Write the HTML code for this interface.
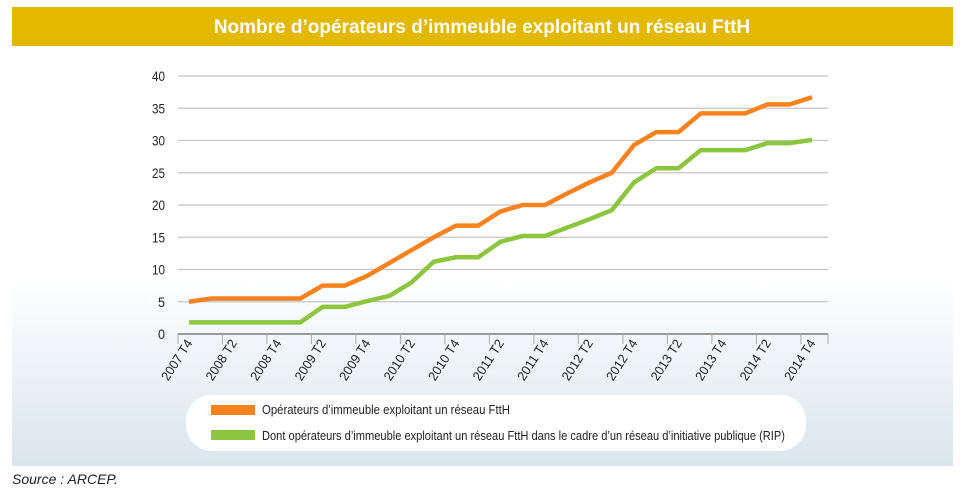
<!DOCTYPE html>
<html><head><meta charset="utf-8"><style>
body{margin:0;background:#fff;font-family:"Liberation Sans",sans-serif}
svg{display:block}
</style></head><body>
<svg width="965" height="503" xmlns="http://www.w3.org/2000/svg">
<defs>
<linearGradient id="bg" x1="0" y1="0" x2="0" y2="1">
<stop offset="0" stop-color="#ffffff"/><stop offset="0.55" stop-color="#ffffff"/><stop offset="1" stop-color="#d9e5ee"/>
</linearGradient>
</defs>
<rect x="12" y="46" width="941" height="420" fill="url(#bg)"/>
<rect x="12" y="7" width="941" height="39" fill="#e3b800"/>
<text x="482" y="33" text-anchor="middle" fill="#fff" font-weight="bold" font-size="19">Nombre d’opérateurs d’immeuble exploitant un réseau FttH</text>
<g id="grid"></g>
<g id="axis"></g>
<g id="series"></g>
<rect x="186" y="395" width="620" height="56" rx="26" fill="#fff"/>
<rect x="211" y="405" width="44" height="10" fill="#f7821e"/>
<text x="262" y="414" font-size="13" fill="#222" textLength="248" lengthAdjust="spacingAndGlyphs">Opérateurs d’immeuble exploitant un réseau FttH</text>
<rect x="211" y="430" width="44" height="10" fill="#8cc63f"/>
<text x="262" y="440" font-size="13" fill="#222" textLength="523" lengthAdjust="spacingAndGlyphs">Dont opérateurs d’immeuble exploitant un réseau FttH dans le cadre d’un réseau d’initiative publique (RIP)</text>
<text x="12" y="484" font-size="14" font-style="italic" fill="#222">Source : ARCEP.</text>
</svg>
<script>
const categories=["2007 T4","2008 T1","2008 T2","2008 T3","2008 T4","2009 T1","2009 T2","2009 T3","2009 T4","2010 T1","2010 T2","2010 T3","2010 T4","2011 T1","2011 T2","2011 T3","2011 T4","2012 T1","2012 T2","2012 T3","2012 T4","2013 T1","2013 T2","2013 T3","2013 T4","2014 T1","2014 T2","2014 T3","2014 T4"];
const totalValues=[5,5.5,5.5,5.5,5.5,5.5,7.5,7.5,9,11,13,15,16.8,16.8,19,20,20,21.8,23.5,25,29.3,31.3,31.3,34.2,34.2,34.2,35.6,35.6,36.7];
const ripValues=[1.8,1.8,1.8,1.8,1.8,1.8,4.2,4.2,5.1,5.9,8,11.2,11.9,11.9,14.3,15.2,15.2,16.5,17.8,19.2,23.5,25.7,25.7,28.5,28.5,28.5,29.6,29.6,30.1];
const yTicks=[0,5,10,15,20,25,30,35,40];
const NS="http://www.w3.org/2000/svg";
const x0=189,x1=812,y0=334,y1=76;
function xs(i){return x0+(x1-x0)*i/(categories.length-1);}
function ys(v){return y0-(y0-y1)*v/40;}
function mk(t,a,p){const e=document.createElementNS(NS,t);for(const k in a)e.setAttribute(k,a[k]);p.appendChild(e);return e;}
const grid=document.getElementById('grid'),axis=document.getElementById('axis'),ser=document.getElementById('series');
yTicks.forEach(v=>{
  if(v>0){const l=mk('line',{x1:178,x2:828,y1:ys(v),y2:ys(v),stroke:'#c4c4c4','stroke-width':1.2},grid);
  
  }
  const t=mk('text',{x:165,y:ys(v)+5,'text-anchor':'end','font-size':14,fill:'#222',textLength:(v>=10?13:7),lengthAdjust:'spacingAndGlyphs'},axis);
  t.textContent=v;
  
  
});
const ax=mk('line',{x1:178,x2:828,y1:y0,y2:y0,stroke:'#999','stroke-width':2},axis);


for(let i=0;i<=categories.length-1;i+=2){
  const tx=(i===0)?178:xs(i)-11.1;
  const tk=mk('line',{x1:tx,x2:tx,y1:y0,y2:y0+10,stroke:'#aaa','stroke-width':1},axis);
  
  
}
mk('line',{x1:828,x2:828,y1:y0,y2:y0+10,stroke:'#aaa'},axis);
categories.forEach((c,i)=>{
  if(i%2) return;
  const X=xs(i)+4,Y=y0+9;
  const t=mk('text',{x:X,y:Y,'text-anchor':'end','font-size':13,fill:'#222',textLength:46,lengthAdjust:'spacingAndGlyphs',transform:`rotate(-57 ${X} ${Y})`},axis);
  t.textContent=c;
  
  
});
function line(vals,color,name){
  const p=mk('polyline',{points:vals.map((v,i)=>xs(i)+','+ys(v)).join(' '),fill:'none',stroke:color,'stroke-width':4.5,'stroke-linejoin':'round'},ser);
  
  
}
line(ripValues,'#8cc63f','series-rip-line');
line(totalValues,'#f7821e','series-total-line');
</script>
</body></html>
